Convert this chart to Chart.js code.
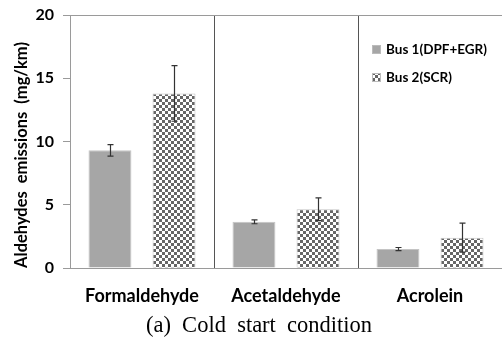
<!DOCTYPE html>
<html>
<head>
<meta charset="utf-8">
<script src="https://cdn.jsdelivr.net/npm/chart.js@4.4.1/dist/chart.umd.min.js"></script>
<style>
  html, body { margin: 0; padding: 0; background: #fff; }
  #wrap { width: 502px; height: 343px; }
</style>
</head>
<body>
<div id="wrap"><canvas id="c" width="502" height="343"></canvas></div>
<script>
// 数据
const categories = ['Formaldehyde', 'Acetaldehyde', 'Acrolein'];
const seriesNames = ['Bus 1(DPF+EGR)', 'Bus 2(SCR)'];
const bus1 = [9.3, 3.65, 1.5];
const bus1Err = [0.45, 0.15, 0.12];
const bus2 = [13.8, 4.65, 2.4];
const bus2Err = [2.2, 0.9, 1.15];
const yTicks = [0, 5, 10, 15, 20];

const LABEL_FONT = 'Lato, "DejaVu Sans", sans-serif';
const AXIS_GRAY = '#9a9a9a';

// 棋盘格填充
function makeChecker() {
    const cv = document.createElement('canvas');
    cv.width = 6; cv.height = 6;
    const g = cv.getContext('2d');
    g.fillStyle = '#ffffff';
    g.fillRect(0, 0, 6, 6);
    g.fillStyle = '#666666';
    g.fillRect(0, 0, 3, 3);
    g.fillRect(3, 3, 3, 3);
    return g.createPattern(cv, 'repeat');
}
const checker = makeChecker();

// 误差线
const errorBars = {
    id: 'errorBars',
    afterDatasetsDraw(chart) {
        const ctx = chart.ctx;
        const y = chart.scales.y;
        const errs = [bus1Err, bus2Err];
        ctx.save();
        ctx.strokeStyle = '#333';
        ctx.lineWidth = 1.2;
        chart.data.datasets.forEach((ds, di) => {
            chart.getDatasetMeta(di).data.forEach((bar, i) => {
                const v = ds.data[i], e = errs[di][i];
                const x = Math.round(bar.x) + 0.5;
                const yt = y.getPixelForValue(v + e);
                const yb = y.getPixelForValue(v - e);
                ctx.beginPath();
                ctx.moveTo(x, yt); ctx.lineTo(x, yb);
                ctx.moveTo(x - 3, yt); ctx.lineTo(x + 3, yt);
                ctx.moveTo(x - 3, yb); ctx.lineTo(x + 3, yb);
                ctx.stroke();
            });
        });
        ctx.restore();
    }
};

// 纵轴标题、图例、图注
const extras = {
    id: 'extras',
    afterDraw(chart) {
        const ctx = chart.ctx;
        ctx.save();
        ctx.fillStyle = '#000';
        // y title
        ctx.translate(22, 155);
        ctx.rotate(-Math.PI / 2);
        ctx.font = 'bold 16.5px ' + LABEL_FONT;
        ctx.textAlign = 'center';
        ctx.textBaseline = 'middle';
        ctx.fillText('Aldehydes  emissions  (mg/km)', 0, 0);
        ctx.restore();

        // legend
        ctx.save();
        const fills = [chart.data.datasets[0].backgroundColor, chart.data.datasets[1].backgroundColor];
        const rows = [50, 78];
        ctx.font = 'bold 13.5px ' + LABEL_FONT;
        ctx.textBaseline = 'middle';
        seriesNames.forEach((name, i) => {
            ctx.fillStyle = fills[i];
            ctx.fillRect(372, rows[i] - 5, 9, 9);
            ctx.strokeStyle = '#bbb';
            ctx.lineWidth = 1;
            ctx.strokeRect(372.5, rows[i] - 4.5, 8, 8);
            ctx.fillStyle = '#000';
            ctx.fillText(name, 386, rows[i]);
        });
        ctx.restore();

        // caption
        ctx.save();
        ctx.font = '22.5px "Liberation Serif", serif';
        ctx.fillStyle = '#000';
        ctx.textAlign = 'center';
        ctx.textBaseline = 'alphabetic';
        ctx.fillText('(a)  Cold  start  condition', 259, 332);
        ctx.restore();
    }
};

new Chart(document.getElementById('c'), {
    type: 'bar',
    data: {
        labels: categories,
        datasets: [
            {
                label: seriesNames[0],
                data: bus1,
                backgroundColor: '#a6a6a6',
                borderColor: '#c4c4c4',
                borderWidth: 1,
                barPercentage: 0.67,
                categoryPercentage: 0.89
            },
            {
                label: seriesNames[1],
                data: bus2,
                backgroundColor: checker,
                borderColor: '#c4c4c4',
                borderWidth: 1,
                barPercentage: 0.67,
                categoryPercentage: 0.89
            }
        ]
    },
    options: {
        responsive: false,
        animation: false,
        layout: { padding: { top: 15, right: 0, left: 0, bottom: 0 } },
        plugins: {
            legend: { display: false },
            tooltip: { enabled: false }
        },
        scales: {
            x: {
                offset: true,
                grid: {
                    offset: true,
                    drawTicks: false,
                    color: (c) => (c.index === 1 || c.index === 2) ? '#555' : 'transparent',
                    lineWidth: 1
                },
                border: { color: AXIS_GRAY },
                ticks: {
                    color: '#000',
                    padding: 17,
                    font: { family: LABEL_FONT, size: 18, weight: 'bold' }
                },
                afterFit: (s) => { s.height = 75; s.paddingLeft = 0; s.paddingRight = 0; }
            },
            y: {
                min: 0,
                max: 20,
                afterBuildTicks: (s) => { s.ticks = yTicks.map(v => ({ value: v })); },
                grid: {
                    color: (c) => (c.tick && c.tick.value === 20) ? AXIS_GRAY : 'transparent',
                    tickColor: AXIS_GRAY,
                    tickLength: 7
                },
                border: { color: AXIS_GRAY },
                ticks: {
                    color: '#000',
                    padding: 9,
                    font: { family: LABEL_FONT, size: 16, weight: 'bold' }
                },
                afterFit: (s) => { s.width = 70; s.paddingTop = 0; s.paddingBottom = 0; }
            }
        }
    },
    plugins: [errorBars, extras]
});
</script>
</body>
</html>
